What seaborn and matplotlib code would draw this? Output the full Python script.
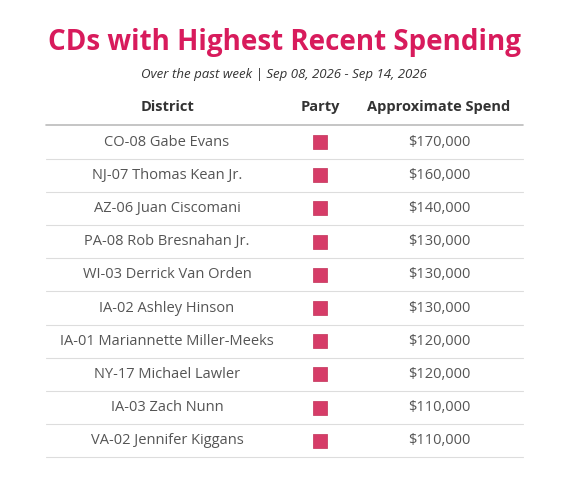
import matplotlib
matplotlib.use("Agg")
import matplotlib.pyplot as plt
import seaborn as sns
import pandas as pd

districts = ["CO-08 Gabe Evans", "NJ-07 Thomas Kean Jr.", "AZ-06 Juan Ciscomani",
             "PA-08 Rob Bresnahan Jr.", "WI-03 Derrick Van Orden", "IA-02 Ashley Hinson",
             "IA-01 Mariannette Miller-Meeks", "NY-17 Michael Lawler", "IA-03 Zach Nunn",
             "VA-02 Jennifer Kiggans"]
party = ["R"] * 10
spend = [170000, 160000, 140000, 130000, 130000, 130000, 120000, 120000, 110000, 110000]
headers = ["District", "Party", "Approximate Spend"]
title = "CDs with Highest Recent Spending"
subtitle = "Over the past week | Sep 08, 2026 - Sep 14, 2026"

sns.set_style("white")
plt.rcParams['font.family'] = ['Open Sans', 'DejaVu Sans']

fig = plt.figure(figsize=(5.67, 4.78), dpi=100)
ax = fig.add_axes([0, 0, 1, 1])
ax.set_xlim(0, 567)
ax.set_ylim(478, 0)
ax.axis("off")

y0, dy = 142, 33.2
df = pd.DataFrame({"x": [320] * len(districts), "y": [y0 + i * dy for i in range(len(districts))], "party": party})
sns.scatterplot(data=df, x="x", y="y", marker="s", s=110, color="#d63c68", edgecolor="#c23058",
                linewidth=0.5, ax=ax, legend=False)
ax.set_xlim(0, 567); ax.set_ylim(478, 0); ax.axis("off")

ax.text(284, 42, title, ha="center", va="center", fontsize=20, fontweight="bold", color="#d81b5c")
ax.text(284, 74, subtitle, ha="center", va="center", fontsize=9.5, style="italic", color="#333333")
for x, h in zip([167, 320, 439], headers):
    ax.text(x, 107, h, ha="center", va="center", fontsize=10.5, fontweight="bold", color="#333333")
ax.plot([46, 523], [125, 125], color="#bbbbbb", lw=1.2)
for i, (d, s) in enumerate(zip(districts, spend)):
    y = y0 + i * dy
    ax.text(167, y, d, ha="center", va="center", fontsize=10.5, color="#555555")
    ax.text(439, y, f"${s:,.0f}", ha="center", va="center", fontsize=10.5, color="#555555")
    if i < len(districts) - 1:
        ax.plot([46, 523], [y + dy / 2, y + dy / 2], color="#dddddd", lw=0.8)
ax.plot([46, 523], [y0 + 9.5 * dy, y0 + 9.5 * dy], color="#dddddd", lw=0.8)

fig.savefig("out.png", dpi=100, facecolor="white")
